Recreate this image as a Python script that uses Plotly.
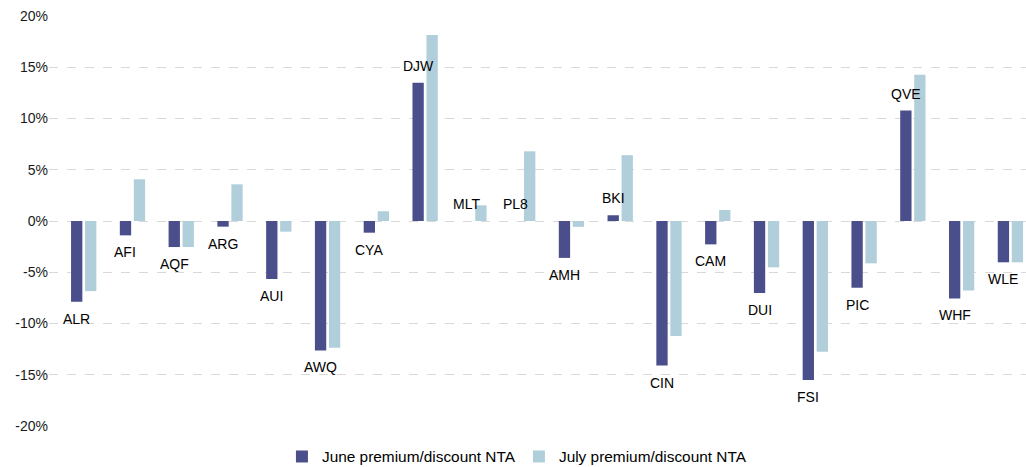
import plotly.graph_objects as go

tickers = ["ALR", "AFI", "AQF", "ARG", "AUI", "AWQ", "CYA", "DJW", "MLT", "PL8",
           "AMH", "BKI", "CIN", "CAM", "DUI", "FSI", "PIC", "QVE", "WHF", "WLE"]
june = [-7.88, -1.40, -2.54, -0.55, -5.66, -12.63, -1.14, 13.50, 0.0, 0.0,
        -3.60, 0.56, -14.10, -2.28, -7.03, -15.50, -6.51, 10.77, -7.55, -4.03]
july = [-6.84, 4.07, -2.54, 3.58, -1.04, -12.37, 0.95, 18.15, 1.53, 6.80,
        -0.57, 6.42, -11.23, 1.07, -4.52, -12.76, -4.13, 14.26, -6.77, -4.03]
y_ticks = [-20, -15, -10, -5, 0, 5, 10, 15, 20]
y_tick_text = ["-20%", "-15%", "-10%", "-5%", "0%", "5%", "10%", "15%", "20%"]

dark = "#4a4e8b"
light = "#b1cfdb"
font_family = "Liberation Sans, Arial, sans-serif"

x_idx = list(range(len(tickers)))

fig = go.Figure()
fig.add_trace(go.Bar(x=x_idx, y=june, name="June premium/discount NTA",
                     marker=dict(color=dark, line=dict(width=0)),
                     width=0.232, offset=-0.259))
fig.add_trace(go.Bar(x=x_idx, y=july, name="July premium/discount NTA",
                     marker=dict(color=light, line=dict(width=0)),
                     width=0.232, offset=0.028))

for i, (t, v) in enumerate(zip(tickers, june)):
    fig.add_annotation(x=i - 0.143, y=v, text=t, showarrow=False,
                       xref="x", yref="y", yshift=17 if v >= 0 else -17,
                       font=dict(size=14, color="#000000", family=font_family))

fig.update_layout(
    width=1026, height=474,
    margin=dict(l=49, r=0, t=16, b=48),
    paper_bgcolor="white", plot_bgcolor="white",
    barmode="overlay",
    font=dict(family=font_family, size=14, color="#1a1a1a"),
    showlegend=True,
    legend=dict(orientation="h", x=0.481, xanchor="center", y=-0.117, yanchor="bottom",
                font=dict(size=15.4, color="#000000"), itemwidth=30,
                entrywidth=192,
                bgcolor="rgba(0,0,0,0)"),
    xaxis=dict(range=[-0.711, 19.32], showticklabels=False, showgrid=False,
               zeroline=False, showline=False, ticks="", automargin=False),
    yaxis=dict(range=[-20, 20], tickvals=y_ticks, ticktext=y_tick_text,
               showgrid=True, gridcolor="#d9d9d9", griddash="dash", gridwidth=1,
               zeroline=False, showline=False, ticks="", automargin=False,
               tickfont=dict(size=14, color="#1a1a1a")),
)

fig.write_html("out.html", config={"displayModeBar": False},
               post_script="document.body.style.margin='0';document.body.style.overflow='hidden';")
